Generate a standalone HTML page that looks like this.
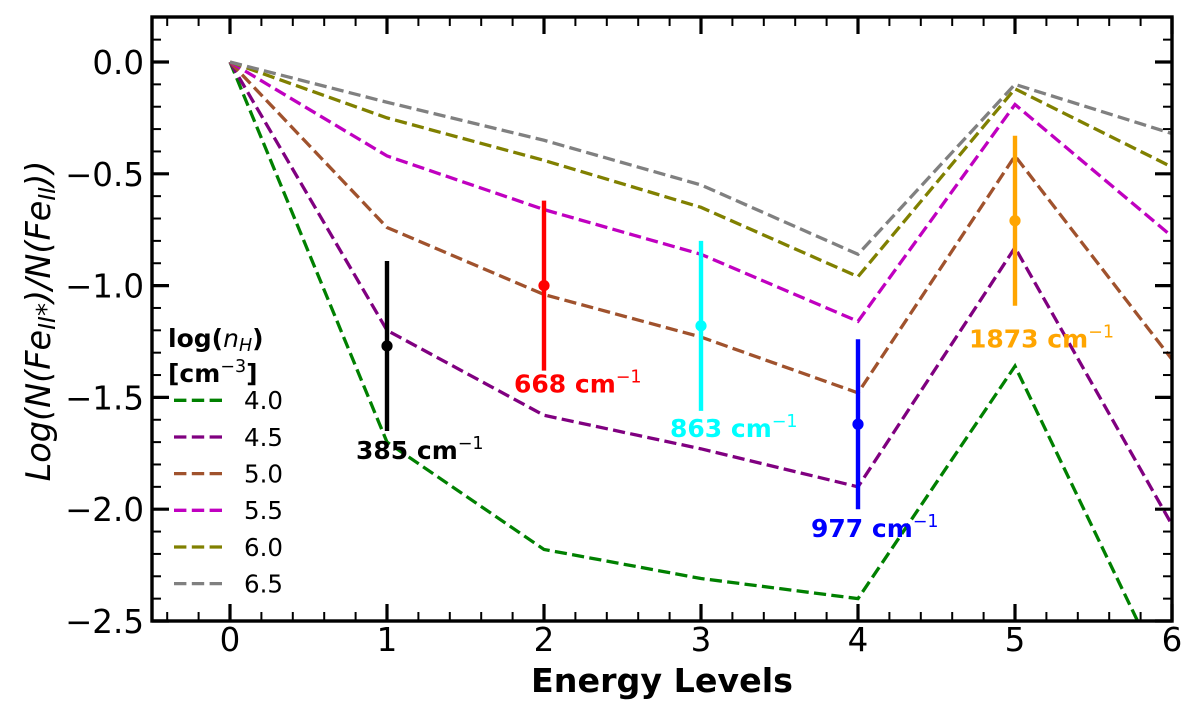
<!DOCTYPE html>
<html lang="en">
<head>
<meta charset="utf-8">
<title>Fe II excited level ratios</title>
<style>
html,body{margin:0;padding:0;background:#fff;width:1200px;height:720px;overflow:hidden}
svg{display:block;font-family:"DejaVu Sans","Liberation Sans",sans-serif}
</style>
</head>
<body>
<svg id="chart" xmlns="http://www.w3.org/2000/svg" width="1200" height="720" viewBox="0 0 1200 720">
<defs><clipPath id="plot-clip"><rect x="152" y="17" width="1020" height="604"/></clipPath></defs>
<g id="series-layer" clip-path="url(#plot-clip)"></g>
<g id="obs-layer" clip-path="url(#plot-clip)"></g>
<g id="label-layer"></g>
<g id="tick-layer"></g>
<rect x="152" y="17" width="1020" height="604" fill="none" stroke="#000" stroke-width="3.4"/>
<g id="ticklabel-layer" font-size="32.5" fill="#000"></g>
<text x="662" y="692" text-anchor="middle" font-size="33.3" font-weight="bold">Energy Levels</text>
<text transform="translate(50,321) rotate(-90)" text-anchor="middle" font-size="33.5" font-style="italic">Log(N(Fe<tspan font-size="23.5" dy="5">II</tspan><tspan font-size="26" dy="0">*</tspan><tspan dy="-5">)/N(Fe</tspan><tspan font-size="23.5" dy="5">II</tspan><tspan dy="-5">))</tspan></text>
<g>
<text x="168" y="347" font-size="25" font-weight="bold">log(<tspan font-weight="normal" font-style="italic">n</tspan><tspan font-weight="normal" font-style="italic" font-size="17.5" dy="4">H</tspan><tspan dy="-4">)</tspan></text>
<text x="168" y="382" font-size="25" font-weight="bold">[cm<tspan font-weight="normal" font-size="17.5" dy="-10">−3</tspan><tspan dy="10">]</tspan></text>
<g id="legend-layer"></g>
</g>
</svg>
<script>
const levels = [0, 1, 2, 3, 4, 5, 6];
const densityNames = ["4.0", "4.5", "5.0", "5.5", "6.0", "6.5"];
const density40 = [0, -1.70, -2.18, -2.31, -2.40, -1.36, -2.82];
const density45 = [0, -1.20, -1.58, -1.73, -1.90, -0.83, -2.07];
const density50 = [0, -0.74, -1.04, -1.23, -1.48, -0.42, -1.33];
const density55 = [0, -0.42, -0.66, -0.86, -1.16, -0.19, -0.78];
const density60 = [0, -0.25, -0.44, -0.65, -0.96, -0.12, -0.47];
const density65 = [0, -0.18, -0.35, -0.55, -0.86, -0.10, -0.32];
const densityColors = ["#008000", "#800080", "#a0522d", "#c000c0", "#808000", "#808080"];
const obsLevels = [1, 2, 3, 4, 5];
const obsValues = [-1.27, -1.00, -1.18, -1.62, -0.71];
const obsErrors = [0.38, 0.38, 0.38, 0.38, 0.38];
const obsLabels = ["385", "668", "863", "977", "1873"];
const obsColors = ["#000000", "#ff0000", "#00ffff", "#0000ff", "#ffa500"];
const xTicks = [0, 1, 2, 3, 4, 5, 6];
const yTicks = [0, -0.5, -1, -1.5, -2, -2.5];

const NS = "http://www.w3.org/2000/svg";
const xScale = v => 230 + v * 157;
const yScale = v => 62 - v * 223.6;
const make = (tag, parent) => { const e = document.createElementNS(NS, tag); parent.appendChild(e); return e; };
const seriesLayer = document.getElementById("series-layer");
const obsLayer = document.getElementById("obs-layer");
const labelLayer = document.getElementById("label-layer");
const tickLayer = document.getElementById("tick-layer");
const tickLabelLayer = document.getElementById("ticklabel-layer");
const legendLayer = document.getElementById("legend-layer");

[density40, density45, density50, density55, density60, density65].forEach((vals, i) => {
  const line = make("polyline", seriesLayer);
  
  
  line.setAttribute("points", vals.map((v, j) => xScale(levels[j]) + "," + yScale(v)).join(" "));
  line.setAttribute("fill", "none");
  line.setAttribute("stroke", densityColors[i]);
  line.setAttribute("stroke-width", "3.3");
  line.setAttribute("stroke-dasharray", "12.2 5.3");

  const y = 400.3 + i * 36.67;
  const key = make("line", legendLayer);
  
  
  key.setAttribute("x1", 174);
  key.setAttribute("x2", 222);
  key.setAttribute("y1", y);
  key.setAttribute("y2", y);
  key.setAttribute("stroke", densityColors[i]);
  key.setAttribute("stroke-width", "3.3");
  key.setAttribute("stroke-dasharray", "12.4 5.4");
  const name = make("text", legendLayer);
  
  
  name.setAttribute("x", 244);
  name.setAttribute("y", y + 8.8);
  name.setAttribute("font-size", "24.5");
  name.textContent = densityNames[i];
});

const labelDx = [-31, -30, -31, -47, -46];
const labelDy = [28, 22, 26, 28, 42];
obsLevels.forEach((lv, i) => {
  const x = xScale(lv);
  const bar = make("line", obsLayer);
  
  
  bar.setAttribute("x1", x);
  bar.setAttribute("x2", x);
  bar.setAttribute("y1", yScale(obsValues[i] + obsErrors[i]));
  bar.setAttribute("y2", yScale(obsValues[i] - obsErrors[i]));
  bar.setAttribute("stroke", obsColors[i]);
  bar.setAttribute("stroke-width", "4.4");
  const dot = make("circle", obsLayer);
  
  
  dot.setAttribute("cx", x);
  dot.setAttribute("cy", yScale(obsValues[i]));
  dot.setAttribute("r", "5.6");
  dot.setAttribute("fill", obsColors[i]);

  const t = make("text", labelLayer);
  
  
  t.setAttribute("x", x + labelDx[i]);
  t.setAttribute("y", yScale(obsValues[i] - obsErrors[i]) + labelDy[i]);
  t.setAttribute("font-size", "25");
  t.setAttribute("font-weight", "bold");
  t.setAttribute("fill", obsColors[i]);
  const main = make("tspan", t);
  main.textContent = obsLabels[i] + " cm";
  const sup = make("tspan", t);
  sup.setAttribute("font-weight", "normal");
  sup.setAttribute("font-size", "17.5");
  sup.setAttribute("dy", "-10");
  sup.textContent = "−1";
});

function tick(x1, y1, x2, y2, w, name) {
  const l = make("line", tickLayer);
  
  
  l.setAttribute("x1", x1);
  l.setAttribute("y1", y1);
  l.setAttribute("x2", x2);
  l.setAttribute("y2", y2);
  l.setAttribute("stroke", "#000");
  l.setAttribute("stroke-width", w);
}
for (let k = -2; k <= 30; k++) {
  const v = k / 5;
  const x = xScale(v);
  const major = k % 5 === 0;
  const len = major ? 17 : 9;
  const w = major ? 3.2 : 2;
  tick(x, 621, x, 621 - len, w, "x-tick-bottom");
  tick(x, 17, x, 17 + len, w, "x-tick-top");
}
for (let k = -25; k <= 2; k++) {
  const y = yScale(k / 10);
  const major = k % 5 === 0;
  const len = major ? 17 : 9;
  const w = major ? 3.2 : 2;
  tick(152, y, 152 + len, y, w, "y-tick-left");
  tick(1172, y, 1172 - len, y, w, "y-tick-right");
}
xTicks.forEach(v => {
  const t = make("text", tickLabelLayer);
  
  
  t.setAttribute("x", xScale(v));
  t.setAttribute("y", 651);
  t.setAttribute("text-anchor", "middle");
  t.textContent = String(v);
});
yTicks.forEach(v => {
  const t = make("text", tickLabelLayer);
  
  
  t.setAttribute("x", 144);
  t.setAttribute("y", yScale(v) + 12);
  t.setAttribute("text-anchor", "end");
  t.textContent = (v < 0 ? "−" : "") + Math.abs(v).toFixed(1);
});
</script>
</body>
</html>
